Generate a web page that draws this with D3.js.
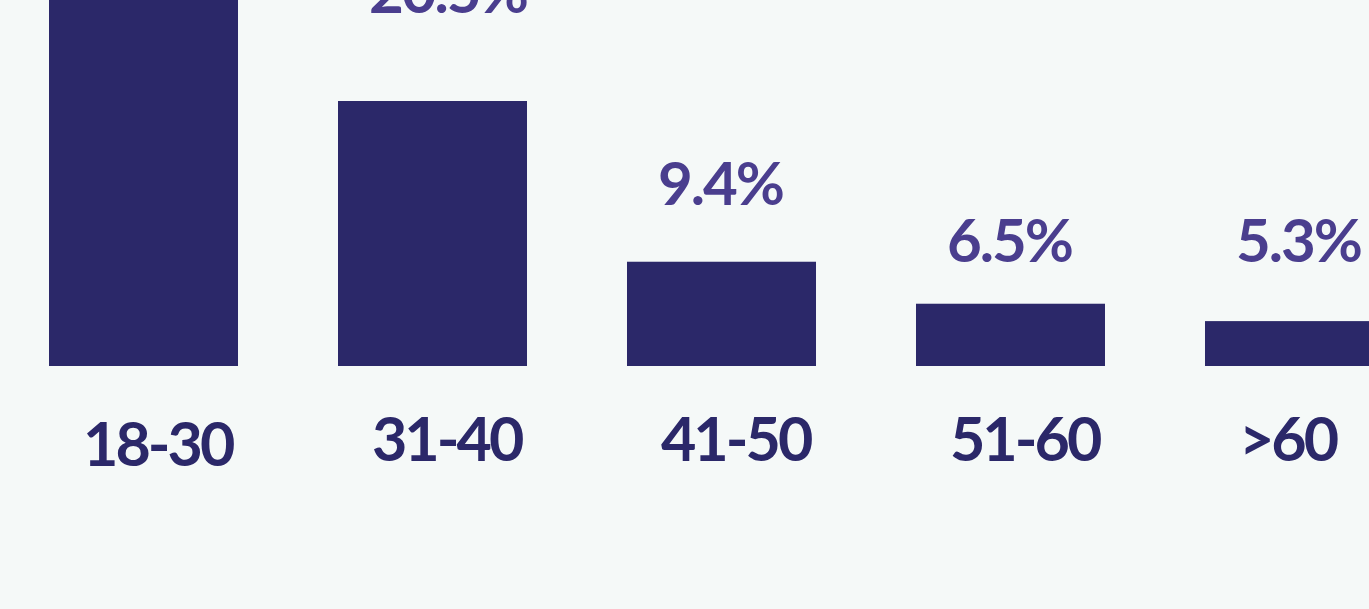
<!DOCTYPE html>
<html>
<head>
<meta charset="utf-8">
<script src="https://cdn.jsdelivr.net/npm/d3@7"></script>
<style>
  html, body { margin: 0; padding: 0; background: #f5f9f8; }
  svg { display: block; }
</style>
</head>
<body>
<div id="chart"></div>
<script>
// age groups and share of respondents (%)
const categories = ['18-30', '31-40', '41-50', '51-60', '>60'];
const shares = [58.3, 20.5, 9.4, 6.5, 5.3];

const width = 1369;
const height = 609;
const baseline = 366;

const svg = d3.select('#chart')
  .append('svg')
  .attr('width', width)
  .attr('height', height);

svg.append('rect')
  .attr('width', width)
  .attr('height', height)
  .attr('fill', '#f5f9f8');

const data = categories.map((c, i) => ({ cat: c, value: shares[i] }));

// bands: first bar starts at 49, 189 wide, ~289 step
const x = d3.scaleBand()
  .domain(categories)
  .range([49, 1394])
  .paddingInner(0.346)
  .paddingOuter(0);

const y = d3.scaleLinear()
  .domain([2.2, 20.5])
  .range([baseline, 101]);

// value labels sit at their own heights in the original
const labelY = d3.scaleLinear()
  .domain([5.3, 6.5, 9.4, 20.5])
  .range([262, 262, 205, 13]);

svg.selectAll('rect.bar')
  .data(data)
  .enter()
  .append('rect')
  .attr('class', 'bar')
  .attr('x', d => x(d.cat))
  .attr('y', d => y(d.value))
  .attr('width', x.bandwidth())
  .attr('height', d => baseline - y(d.value))
  .attr('fill', '#2b2869');

// labels are left aligned inside the band
svg.selectAll('text.value')
  .data(data)
  .enter()
  .append('text')
  .attr('class', 'value')
  .attr('x', d => x(d.cat) + 31)
  .attr('y', d => labelY(d.value))
  .attr('font-family', 'Lato, sans-serif')
  .attr('font-weight', 700)
  .attr('font-size', '60px')
  .attr('letter-spacing', '-2px')
  .attr('fill', '#4a3e8e')
  .text(d => d.value.toFixed(1) + '%');

svg.selectAll('text.cat')
  .data(data)
  .enter()
  .append('text')
  .attr('class', 'cat')
  .attr('x', d => x(d.cat) + 34)
  .attr('y', (d, i) => i === 0 ? 466 : 461)
  .attr('font-family', 'Lato, sans-serif')
  .attr('font-weight', 700)
  .attr('font-size', '61px')
  .attr('letter-spacing', '-3px')
  .attr('fill', '#2b2869')
  .text(d => d.cat);
</script>
</body>
</html>
